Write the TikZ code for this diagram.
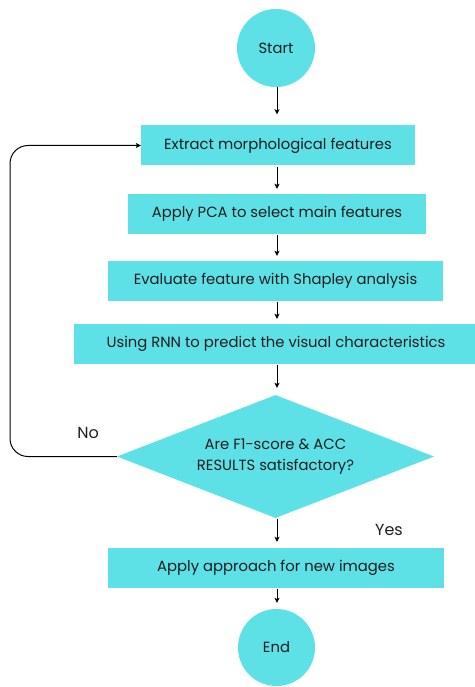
\documentclass[tikz,border=0pt]{standalone}
\usepackage{fontspec}
\setmainfont{Poppins}
\usetikzlibrary{shapes.geometric,arrows.meta,calc}

\definecolor{flowcyan}{HTML}{5DE0E6}
\definecolor{flowtext}{HTML}{1E1E1E}

\tikzset{
  every node/.style={text=flowtext, font=\fontsize{14.8}{20.5}\selectfont},
  terminal/.style={circle, fill=flowcyan, minimum size=#1, inner sep=0pt},
  stepbox/.style={rectangle, fill=flowcyan, minimum width=#1, minimum height=40pt, inner sep=0pt},
  decision/.style={diamond, fill=flowcyan, minimum width=317pt, minimum height=123pt,
                   aspect=2.58, inner sep=0pt, align=center},
  flowarrow/.style={draw=black, line width=1pt, -{Stealth[length=5pt,width=5pt,inset=1.2pt]}},
  tag/.style={font=\fontsize{16}{18}\selectfont}
}

\begin{document}
\begin{tikzpicture}[x=1pt,y=-1pt]
  \useasboundingbox (0,0) rectangle (474,687);

  \coordinate (spine) at (277,0);

  \node[terminal=78pt] (start) at (276,48) {Start};
  \node[stepbox=274pt] (extract) at (278,145.5) {Extract morphological features};
  \node[stepbox=298pt] (pca) at (277,214) {Apply PCA to select main features};
  \node[stepbox=335pt] (shap) at (275.5,281) {Evaluate feature with Shapley analysis};
  \node[stepbox=404pt] (rnn) at (276,344) {Using RNN to predict the visual characteristics};
  \node[decision] (check) at (275.5,456.5) {Are F1-score \& ACC\\RESULTS satisfactory?};
  \node[stepbox=336pt] (apply) at (276,568) {Apply approach for new images};
  \node[terminal=77pt] (end) at (276.5,647.5) {End};

  \node[tag] (no) at (88,433) {No};
  \node[tag] (yes) at (389,530) {Yes};

  % main sequence
  \draw[flowarrow, shorten >=11pt] (start.south -| spine) -- (extract.north -| spine);
  \draw[flowarrow, shorten <=1pt, shorten >=5pt] (extract.south -| spine) -- (pca.north -| spine);
  \draw[flowarrow, shorten <=1pt, shorten >=5pt] (pca.south -| spine) -- (shap.north -| spine);
  \draw[flowarrow, shorten <=1pt, shorten >=5pt] (shap.south -| spine) -- (rnn.north -| spine);
  \draw[flowarrow, shorten <=1pt, shorten >=7pt] (rnn.south -| spine) -- (check.north -| spine);
  \draw[flowarrow, shorten <=1pt, shorten >=6pt] (check.south -| spine) -- (apply.north -| spine);
  \draw[flowarrow, shorten <=1pt, shorten >=6pt] (apply.south -| spine) -- (end.north -| spine);

  % feedback loop when the scores are not satisfactory
  \coordinate (loopx) at (10,0);
  \draw[flowarrow, rounded corners=18pt]
    (check.west) -- (check.west -| loopx) -- (extract.west -| loopx) -- (extract.west);
\end{tikzpicture}
\end{document}
